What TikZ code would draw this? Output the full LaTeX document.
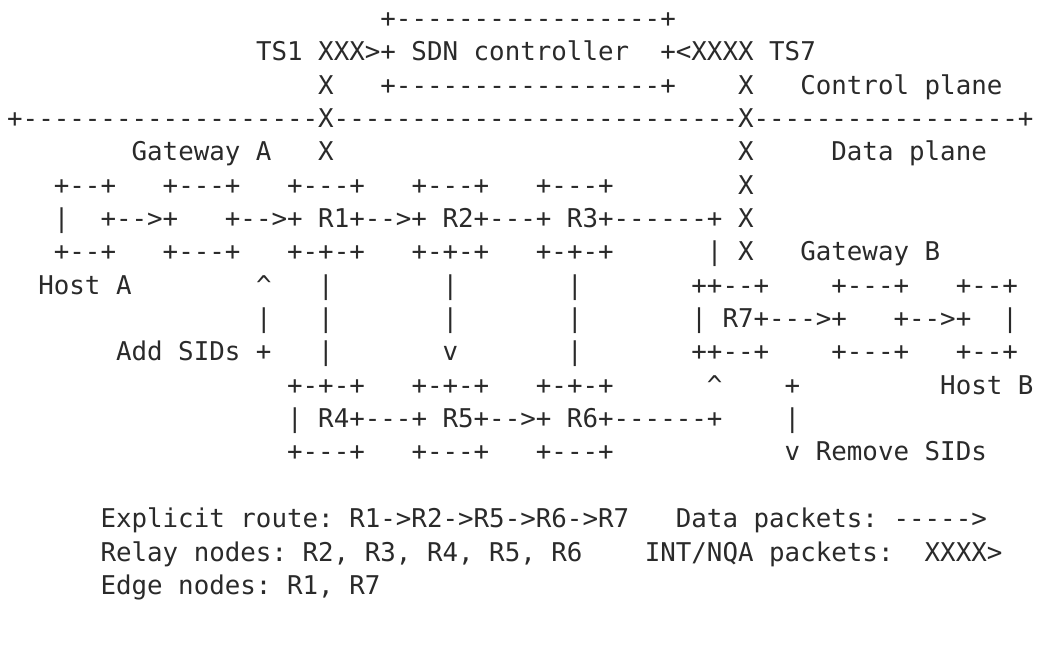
\documentclass[tikz,border=0pt]{standalone}
\usepackage{fontspec}
\setmonofont{DejaVu Sans Mono}
\definecolor{ink}{HTML}{2A2A2A}
\tikzset{
  seg/.style={anchor=base west, inner sep=0pt, outer sep=0pt, text=ink,
              font=\ttfamily\fontsize{25.83}{31}\selectfont}
}
% place a run of characters at a given column and text row
\newcommand\putseg[4]{\node[seg] (#1) at ({7.2+15.55*#2},{-(27.4+33.35*(#3-1))}) {#4};}
\begin{document}
\begin{tikzpicture}[x=1pt,y=1pt]
\fill[white] (0,0) rectangle (1039,-656);
\useasboundingbox (0,0) rectangle (1039,-656);
% controller box and telemetry servers
\putseg{ctlTop}{24}{1}{+-----------------+}
\putseg{tsOne}{16}{2}{TS1 XXX>+ SDN controller}
\putseg{tsSeven}{42}{2}{+<XXXX TS7}
\putseg{xLeftA}{20}{3}{X}
\putseg{ctlBot}{24}{3}{+-----------------+}
\putseg{xRightA}{47}{3}{X}
\putseg{ctlPlane}{51}{3}{Control plane}
% plane separator
\putseg{sep}{0}{4}{+-------------------X--------------------------X-----------------+}
\putseg{gwA}{8}{5}{Gateway A}
\putseg{xLeftB}{20}{5}{X}
\putseg{xRightB}{47}{5}{X}
\putseg{dataPlane}{53}{5}{Data plane}
% upper router row
\putseg{hAtop}{3}{6}{+--+}
\putseg{gAtop}{10}{6}{+---+}
\putseg{rOneTop}{18}{6}{+---+}
\putseg{rTwoTop}{26}{6}{+---+}
\putseg{rThreeTop}{34}{6}{+---+}
\putseg{xRightC}{47}{6}{X}
\putseg{hAmid}{3}{7}{|}
\putseg{hAlink}{6}{7}{+-->+}
\putseg{upperPath}{14}{7}{+-->+ R1+-->+ R2+---+ R3+------+ X}
\putseg{hAbot}{3}{8}{+--+}
\putseg{gAbot}{10}{8}{+---+}
\putseg{rOneBot}{18}{8}{+-+-+}
\putseg{rTwoBot}{26}{8}{+-+-+}
\putseg{rThreeBot}{34}{8}{+-+-+}
\putseg{downLink}{45}{8}{| X}
\putseg{gwB}{51}{8}{Gateway B}
% vertical links and gateway B
\putseg{hostA}{2}{9}{Host A}
\putseg{upArrA}{16}{9}{\textasciicircum}
\putseg{vOneA}{20}{9}{|}
\putseg{vTwoA}{28}{9}{|}
\putseg{vThreeA}{36}{9}{|}
\putseg{rSevenTop}{44}{9}{++--+}
\putseg{gBtop}{53}{9}{+---+}
\putseg{hBtop}{61}{9}{+--+}
\putseg{vAddB}{16}{10}{|}
\putseg{vOneB}{20}{10}{|}
\putseg{vTwoB}{28}{10}{|}
\putseg{vThreeB}{36}{10}{|}
\putseg{rSevenMid}{44}{10}{| R7+--->+}
\putseg{gBlink}{57}{10}{+-->+}
\putseg{hBmid}{64}{10}{|}
\putseg{addSids}{7}{11}{Add SIDs +}
\putseg{vOneC}{20}{11}{|}
\putseg{vTwoC}{28}{11}{v}
\putseg{vThreeC}{36}{11}{|}
\putseg{rSevenBot}{44}{11}{++--+}
\putseg{gBbot}{53}{11}{+---+}
\putseg{hBbot}{61}{11}{+--+}
% lower router row
\putseg{rFourTop}{18}{12}{+-+-+}
\putseg{rFiveTop}{26}{12}{+-+-+}
\putseg{rSixTop}{34}{12}{+-+-+}
\putseg{upArrB}{45}{12}{\textasciicircum}
\putseg{remTop}{50}{12}{+}
\putseg{hostB}{60}{12}{Host B}
\putseg{lowerPath}{18}{13}{| R4+---+ R5+-->+ R6+------+}
\putseg{remMid}{50}{13}{|}
\putseg{rFourBot}{18}{14}{+---+}
\putseg{rFiveBot}{26}{14}{+---+}
\putseg{rSixBot}{34}{14}{+---+}
\putseg{remSids}{50}{14}{v Remove SIDs}
% legend
\putseg{route}{6}{16}{Explicit route: R1->R2->R5->R6->R7}
\putseg{dataKey}{43}{16}{Data packets: ----->}
\putseg{relay}{6}{17}{Relay nodes: R2, R3, R4, R5, R6}
\putseg{intKey}{41}{17}{INT/NQA packets:}
\putseg{intArrow}{59}{17}{XXXX>}
\putseg{edge}{6}{18}{Edge nodes: R1, R7}
\end{tikzpicture}
\end{document}
